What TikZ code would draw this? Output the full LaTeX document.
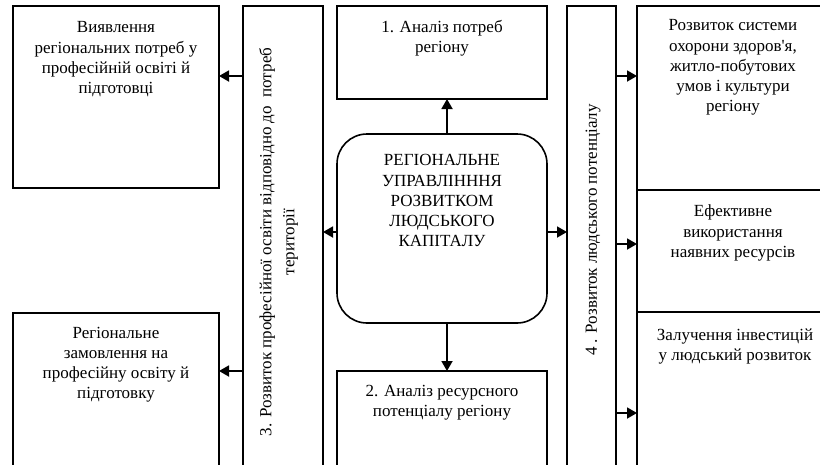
\documentclass[tikz,border=0pt]{standalone}
\usepackage{fontspec}
\setmainfont{Liberation Serif}
\newfontfamily\lser{Liberation Serif}
\usetikzlibrary{arrows.meta}
\newcommand{\fl}{\rule{0pt}{14pt}}
\begin{document}
\begin{tikzpicture}[x=1pt,y=-1pt,
  box/.style={draw, line width=1.6pt, inner sep=0pt, outer sep=0pt},
  txt/.style={inner sep=0pt, align=center, font=\lser\fontsize{17}{20.2}\selectfont},
  arr/.style={line width=1.8pt, -{Triangle[length=10pt,width=11pt]}}]
\useasboundingbox (0,0) rectangle (820,464);
\begin{scope}
\clip (0,0) rectangle (820,464);
% boxes
\node[box, minimum width=206pt, minimum height=182pt] (tl) at (116,97) {};
\node[box, minimum width=206pt, minimum height=157pt] (bl) at (116,391.5) {};
\node[box, minimum width=80pt, minimum height=464pt] (b3) at (283,238) {};
\node[box, minimum width=210pt, minimum height=93pt] (b1) at (442,52.5) {};
\node[box, rounded corners=30pt, minimum width=210pt, minimum height=189pt] (cen) at (442,228.5) {};
\node[box, minimum width=210pt, minimum height=99pt] (b2) at (442,420.5) {};
\node[box, minimum width=49pt, minimum height=464pt] (b4) at (591.5,238) {};
\node[box, minimum width=193pt, minimum height=184pt] (r1) at (733.5,98) {};
\node[box, minimum width=193pt, minimum height=122pt] (r2) at (733.5,251) {};
\node[box, minimum width=193pt, minimum height=158pt] (r3) at (733.5,391) {};
\end{scope}
% texts
\node[txt, anchor=north] (ttl) at (116,18.7) {\fl Виявлення\\регіональних потреб у\\професійній освіті й\\підготовці};
\node[txt, anchor=north] (tbl) at (116,324) {\fl Регіональне\\замовлення на\\професійну освіту й\\підготовку};
\node[txt, anchor=north] (tb1) at (442,18) {\fl 1. Аналіз потреб\\регіону};
\node[txt, anchor=north] (tcen) at (442,151.7) {\fl РЕГІОНАЛЬНЕ\\УПРАВЛІНННЯ\\РОЗВИТКОМ\\ЛЮДСЬКОГО\\КАПІТАЛУ};
\node[txt, anchor=north] (tb2) at (442,382) {\fl 2. Аналіз ресурсного\\потенціалу регіону};
\node[txt, anchor=north] (tr1) at (733,16.7) {\fl Розвиток системи\\охорони здоров'я,\\житло-побутових\\умов і культури\\регіону};
\node[txt, anchor=north] (tr2) at (733,202.7) {\fl Ефективне\\використання\\наявних ресурсів};
\node[txt, anchor=north] (tr3) at (735,326) {\fl Залучення інвестицій\\у людський розвиток};
\node[txt, rotate=90, font=\lser\fontsize{17}{23}\selectfont] (tb3) at (278.5,242) {3. Розвиток професійної освіти відповідно до\ \ потреб\\території};
\node[txt, rotate=90] (tb4) at (593,230) {4 . Розвиток людського потенціалу};
% level coordinates
\coordinate (l1) at (0,76);
\coordinate (l2) at (0,371);
\coordinate (l3) at (0,232);
\coordinate (l4) at (0,244);
\coordinate (l5) at (0,413);
\coordinate (cx) at (447,0);
% arrows
\draw[arr] (b3.west |- l1) -- (tl.east |- l1);
\draw[arr] (b3.west |- l2) -- (bl.east |- l2);
\draw[arr] (cen.west |- l3) -- (b3.east |- l3);
\draw[arr] (cen.east |- l3) -- (b4.west |- l3);
\draw[arr] (cx |- cen.north) -- (cx |- b1.south);
\draw[arr] (cx |- cen.south) -- (cx |- b2.north);
\draw[arr] (b4.east |- l1) -- (r1.west |- l1);
\draw[arr] (b4.east |- l4) -- (r2.west |- l4);
\draw[arr] (b4.east |- l5) -- (r3.west |- l5);
\end{tikzpicture}
\end{document}
